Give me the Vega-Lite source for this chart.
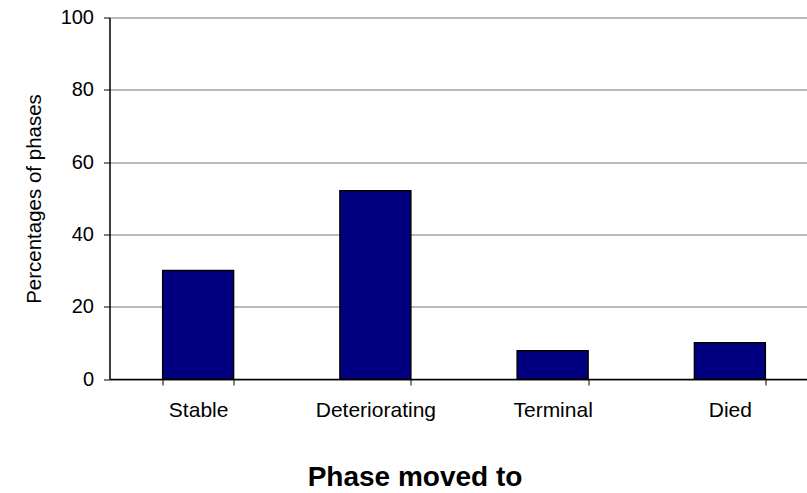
{
  "$schema": "https://vega.github.io/schema/vega-lite/v6.json",
  "autosize": "none",
  "width": 697,
  "height": 361.5,
  "padding": {"left": 109.5, "top": 17.5, "right": 0, "bottom": 114},
  "background": "white",
  "config": {
    "view": {"stroke": null},
    "font": "Liberation Sans"
  },
  "data": {
    "values": [
      {"phase": "Stable", "pct": 30},
      {"phase": "Deteriorating", "pct": 52.1},
      {"phase": "Terminal", "pct": 7.8},
      {"phase": "Died", "pct": 10}
    ]
  },
  "mark": {"type": "bar", "fill": "#000080", "stroke": "#000000", "strokeWidth": 1.5},
  "encoding": {
    "x": {
      "field": "phase",
      "type": "nominal",
      "sort": null,
      "scale": {"paddingInner": 0.6, "paddingOuter": 0.3, "range": [0, 709]},
      "axis": {
        "title": "Phase moved to",
        "titleFont": "Liberation Sans",
        "titleFontSize": 28,
        "titleFontWeight": "bold",
        "titleColor": "#000000",
        "titleX": 305,
        "titleY": 106.7,
        "titleBaseline": "alphabetic",
        "titleAnchor": null,
        "titleAlign": "center",
        "labelAngle": 0,
        "labelFontSize": 21,
        "labelColor": "#000000",
        "labelBaseline": "alphabetic",
        "labelPadding": 31,
        "tickSize": 6,
        "tickBand": "extent",
        "tickColor": "#000000",
        "domainColor": "#000000",
        "domainWidth": 1.5,
        "grid": false
      }
    },
    "y": {
      "field": "pct",
      "type": "quantitative",
      "scale": {"domain": [0, 100], "nice": false},
      "axis": {
        "title": "Percentages of phases",
        "titleFontSize": 20.5,
        "titleFontWeight": "normal",
        "titleColor": "#000000",
        "titleBaseline": "alphabetic",
        "titleX": -69.5,
        "titleY": 181,
        "titleAngle": -90,
        "titleAlign": "center",
        "values": [0, 20, 40, 60, 80, 100],
        "labelFontSize": 20,
        "labelColor": "#000000",
        "labelPadding": 10,
        "tickSize": 6,
        "tickColor": "#000000",
        "domainColor": "#000000",
        "domainWidth": 1.5,
        "grid": true,
        "gridColor": "#777777",
        "gridWidth": 1.2
      }
    }
  }
}
